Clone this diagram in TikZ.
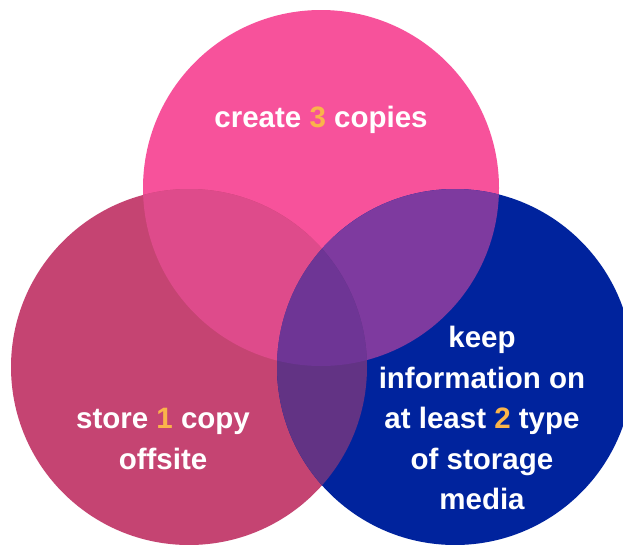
\documentclass[tikz,border=0pt]{standalone}
\usepackage{fontspec}
\setmainfont{Liberation Sans}
\definecolor{topc}{HTML}{F7529B}
\definecolor{leftc}{HTML}{C54472}
\definecolor{rightc}{HTML}{00239D}
\definecolor{tlc}{HTML}{DE4B8B}
\definecolor{trc}{HTML}{7E3A9F}
\definecolor{lrc}{HTML}{623384}
\definecolor{allc}{HTML}{6E3595}
\definecolor{digitc}{HTML}{FAB44A}
\tikzset{
  lbl/.style={text=white, font=\fontsize{29.5}{40.5}\selectfont\bfseries, anchor=base, inner sep=0pt},
}
\newcommand{\dg}[1]{\textcolor{digitc}{#1}}
\begin{document}
\begin{tikzpicture}[x=1pt,y=-1pt]
\useasboundingbox (0,0) rectangle (623,544);
\def\ctop{(321,188) circle[radius=178]}
\def\cleft{(189,367) circle[radius=178]}
\def\cright{(455,367) circle[radius=178]}
\begin{scope}
\clip (0,0) rectangle (623,544);
\fill[topc] \ctop;
\fill[leftc] \cleft;
\fill[rightc] \cright;
\begin{scope}
  \clip \ctop;
  \fill[tlc] \cleft;
  \fill[trc] \cright;
\end{scope}
\begin{scope}
  \clip \cleft;
  \fill[lrc] \cright;
\end{scope}
\begin{scope}
  \clip \ctop;
  \clip \cleft;
  \fill[allc] \cright;
\end{scope}
\end{scope}
\node[lbl] (t1) at (321,127) {create \dg{3} copies};
\node[lbl] (l1) at (163,428.5) {store \dg{1} copy};
\node[lbl] (l2) at (163,469) {offsite};
\node[lbl] (r1) at (482,347.5) {keep};
\node[lbl] (r2) at (482,388) {information on};
\node[lbl] (r3) at (482,428.5) {at least \dg{2} type};
\node[lbl] (r4) at (482,469) {of storage};
\node[lbl] (r5) at (482,509.5) {media};
\end{tikzpicture}
\end{document}
